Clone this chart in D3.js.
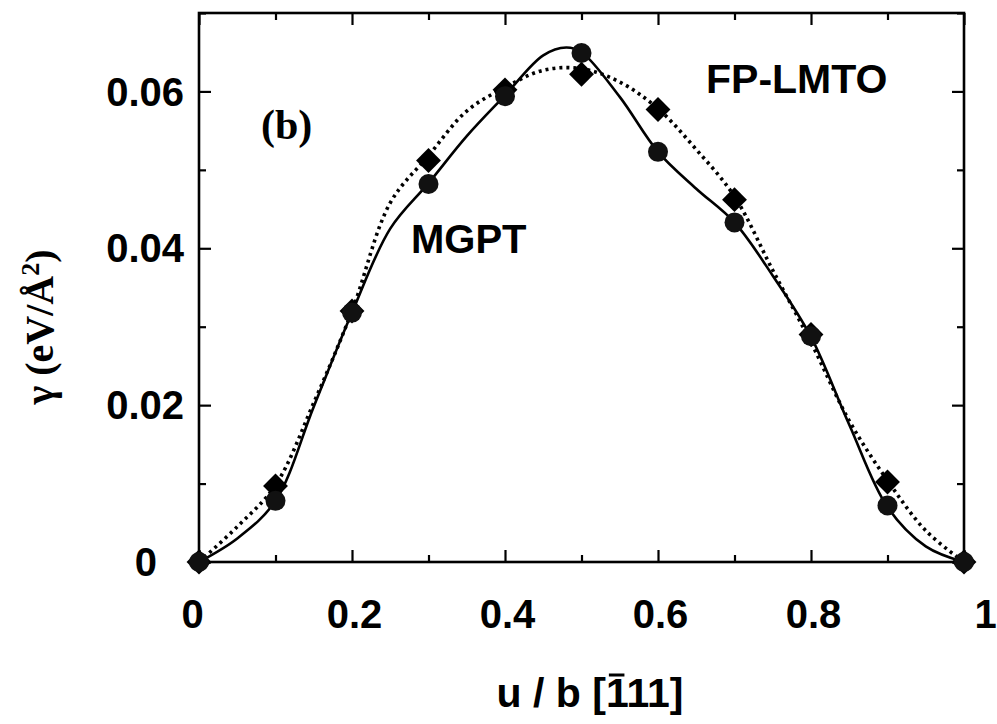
<!DOCTYPE html>
<html>
<head>
<meta charset="utf-8">
<script src="https://cdn.jsdelivr.net/npm/d3@7"></script>
<style>
  html, body { margin: 0; padding: 0; background: #fff; }
  svg { display: block; }
</style>
</head>
<body>
<script>
'use strict';

// sampled u/b positions for the markers
const uPts = [0, 0.1, 0.2, 0.3, 0.4, 0.5, 0.6, 0.7, 0.8, 0.9, 1.0];
// MGPT (circles)
const mgptPts = [0, 0.0078, 0.0318, 0.0482, 0.0594, 0.0649, 0.0523, 0.0433, 0.0288, 0.0072, 0];
// FP-LMTO (diamonds)
const lmtoPts = [0, 0.0097, 0.0320, 0.0512, 0.0602, 0.0622, 0.0577, 0.0462, 0.0290, 0.0102, 0];

// solid MGPT curve
const mgptCurveU = [0, 0.05, 0.1, 0.15, 0.2, 0.25, 0.3, 0.35, 0.4, 0.45, 0.48, 0.5, 0.55, 0.6, 0.65, 0.7, 0.75, 0.8, 0.85, 0.9, 0.95, 1.0];
const mgptCurveG = [0, 0.0030, 0.0078, 0.0198, 0.0318, 0.0425, 0.0483, 0.0543, 0.0595, 0.0646, 0.0656, 0.0650, 0.0593, 0.0523, 0.0476, 0.0433, 0.0365, 0.0287, 0.0175, 0.0070, 0.0020, 0];

// dotted FP-LMTO curve
const lmtoCurveU = [0, 0.05, 0.1, 0.15, 0.2, 0.25, 0.3, 0.35, 0.4, 0.45, 0.5, 0.55, 0.6, 0.65, 0.7, 0.75, 0.8, 0.85, 0.9, 0.95, 1.0];
const lmtoCurveG = [0, 0.0045, 0.0098, 0.0203, 0.0320, 0.0458, 0.0518, 0.0575, 0.0605, 0.0627, 0.0629, 0.0612, 0.0578, 0.0526, 0.0466, 0.0372, 0.0280, 0.0180, 0.0104, 0.0040, 0];

// ticks
const xMajor = [0, 0.2, 0.4, 0.6, 0.8, 1];
const xMinor = [0.1, 0.3, 0.5, 0.7, 0.9];
const yMajor = [0, 0.02, 0.04, 0.06];
const yMinor = [0.01, 0.03, 0.05, 0.07];

const width = 997, height = 724;
const plot = {left: 199, right: 964, top: 13, bottom: 562};

let svg = d3.select('body').append('svg')
  .attr('width', width)
  .attr('height', height);

let x = d3.scaleLinear().domain([0, 1]).range([plot.left, plot.right]);
let y = d3.scaleLinear().domain([0, 0.07]).range([plot.bottom, plot.top]);

const sansBold = "'Liberation Sans', Arial, Helvetica, sans-serif";
const serifBold = "'Liberation Serif', 'Times New Roman', serif";

// draw one axis set (major + minor), ticks pointing inward
function drawAxis(axisFn, scale, major, minor, translate, withLabels, fmt) {
  let g = svg.append('g').attr('transform', translate);
  let ax = axisFn(scale).tickValues(major).tickSize(-12).tickSizeOuter(0);
  if (withLabels) {
    ax.tickFormat(fmt);
  } else {
    ax.tickFormat('');
  }
  g.call(ax);
  let gm = svg.append('g').attr('transform', translate)
    .call(axisFn(scale).tickValues(minor).tickSize(-7).tickSizeOuter(0).tickFormat(''));
  gm.select('.domain').remove();
  g.select('.domain').remove();
  svg.selectAll('.tick line').attr('stroke', '#000').attr('stroke-width', 2.2);
  return g;
}

let xFmt = d => d === 0 ? '0' : d === 1 ? '1' : d3.format('.1f')(d);
let yFmt = d => d === 0 ? '0' : d3.format('.2f')(d);

let gx = drawAxis(d3.axisBottom, x, xMajor, xMinor, 'translate(0,' + plot.bottom + ')', true, xFmt);
gx.call(ax => ax.selectAll('.tick').select('text')
  .attr('y', 38).attr('dy', '0.71em'));
gx.selectAll('.tick text')
  .attr('fill', '#000')
  .style('font-family', sansBold)
  .style('font-weight', 'bold')
  .style('font-size', '40px')
  .attr('dx', d => d === 0 ? -7 : d === 1 ? 21 : 2);

drawAxis(d3.axisTop, x, xMajor, xMinor, 'translate(0,' + plot.top + ')', false);

let gy = drawAxis(d3.axisLeft, y, yMajor, yMinor, 'translate(' + plot.left + ',0)', true, yFmt);
gy.selectAll('.tick text')
  .attr('x', -15)
  .attr('dy', '0.34em')
  .attr('fill', '#000')
  .style('font-family', sansBold)
  .style('font-weight', 'bold')
  .style('font-size', '40px')
  .attr('dx', d => d === 0 ? -27 : 0);

drawAxis(d3.axisRight, y, yMajor, yMinor, 'translate(' + plot.right + ',0)', false);

// frame
svg.append('rect')
  .attr('x', plot.left)
  .attr('y', plot.top)
  .attr('width', plot.right - plot.left)
  .attr('height', plot.bottom - plot.top)
  .attr('fill', 'none')
  .attr('stroke', '#000')
  .attr('stroke-width', 2.6);

// curves
let line = d3.line()
  .x(d => x(d[0]))
  .y(d => y(d[1]))
  .curve(d3.curveCatmullRom.alpha(0.5));

svg.append('path')
  .datum(lmtoCurveU.map((u, i) => [u, lmtoCurveG[i]]))
  .attr('fill', 'none')
  .attr('stroke', '#000')
  .attr('stroke-width', 3.6)
  .attr('stroke-dasharray', '3 4')
  .attr('d', line);

svg.append('path')
  .datum(mgptCurveU.map((u, i) => [u, mgptCurveG[i]]))
  .attr('fill', 'none')
  .attr('stroke', '#000')
  .attr('stroke-width', 2.6)
  .attr('d', line);

// diamonds (FP-LMTO)
let diamond = d3.symbol().type(d3.symbolSquare).size(310);
svg.selectAll('.diamond')
  .data(uPts.map((u, i) => [u, lmtoPts[i]]))
  .enter()
  .append('path')
    .attr('class', 'diamond')
    .attr('d', diamond)
    .attr('transform', d => 'translate(' + x(d[0]) + ',' + y(d[1]) + ') rotate(45)')
    .attr('fill', '#000');

// circles (MGPT)
svg.selectAll('.dot')
  .data(uPts.map((u, i) => [u, mgptPts[i]]))
  .enter()
  .append('circle')
    .attr('class', 'dot')
    .attr('cx', d => x(d[0]))
    .attr('cy', d => y(d[1]))
    .attr('r', 10)
    .attr('fill', '#111');

// annotations
svg.append('text')
  .attr('x', 261)
  .attr('y', 139)
  .style('font-family', serifBold)
  .style('font-weight', 'bold')
  .style('font-size', '42px')
  .text('(b)');

svg.append('text')
  .attr('x', 411)
  .attr('y', 253)
  .style('font-family', sansBold)
  .style('font-weight', 'bold')
  .style('font-size', '40px')
  .text('MGPT');

svg.append('text')
  .attr('x', 706)
  .attr('y', 93)
  .style('font-family', sansBold)
  .style('font-weight', 'bold')
  .style('font-size', '41px')
  .text('FP-LMTO');

// x axis title with bar over the first 1
let xTitle = svg.append('text')
  .attr('x', 590)
  .attr('y', 707)
  .attr('text-anchor', 'middle')
  .style('font-family', sansBold)
  .style('font-weight', 'bold')
  .style('font-size', '41px')
  .text('u / b [111]');

let barStart = xTitle.node().getStartPositionOfChar(7);
let barEnd = xTitle.node().getEndPositionOfChar(7);
svg.append('line')
  .attr('x1', barStart.x + 3)
  .attr('x2', barEnd.x - 2)
  .attr('y1', 675)
  .attr('y2', 675)
  .attr('stroke', '#000')
  .attr('stroke-width', 3);

// y axis title
let yTitle = svg.append('text')
  .attr('transform', 'translate(53, 327) rotate(-90)')
  .attr('text-anchor', 'middle')
  .style('font-family', serifBold)
  .style('font-weight', 'bold')
  .style('font-size', '40px');
yTitle.append('tspan').text('\u03B3 (eV/\u00C5');
yTitle.append('tspan').attr('dy', -14).style('font-size', '26px').text('2');
yTitle.append('tspan').attr('dy', 14).text(')');
</script>
</body>
</html>
